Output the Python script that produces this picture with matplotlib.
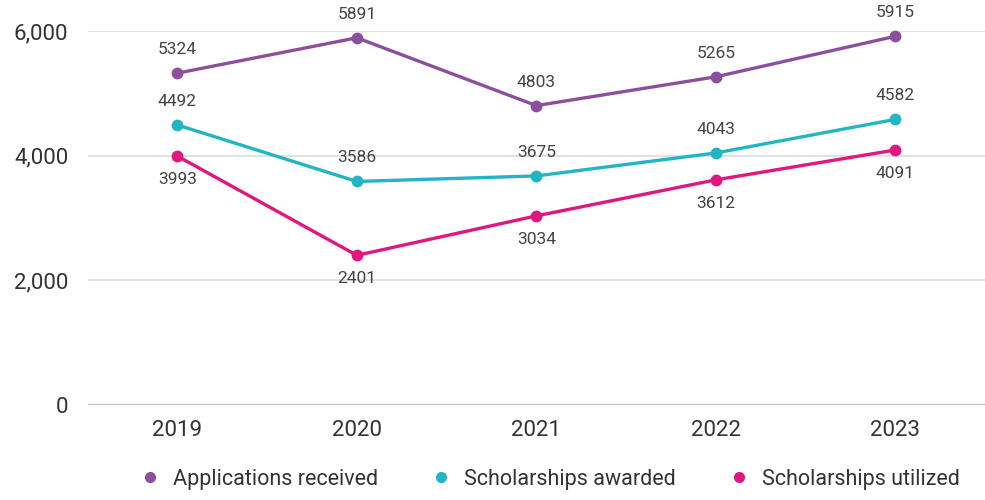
import matplotlib.pyplot as plt
from matplotlib.ticker import FuncFormatter

plt.rcParams['font.family'] = ['Roboto', 'DejaVu Sans']

years = ['2019', '2020', '2021', '2022', '2023']
applications = [5324, 5891, 4803, 5265, 5915]
awarded = [4492, 3586, 3675, 4043, 4582]
utilized = [3993, 2401, 3034, 3612, 4091]

series = [
    ('Applications received', applications, '#8b4f9e', 17),
    ('Scholarships awarded', awarded, '#22b5c4', 17),
    ('Scholarships utilized', utilized, '#e0177f', -17),
]

fig = plt.figure(figsize=(9.85, 5), dpi=100)
ax = fig.add_axes([0.089, 0.19, 0.911, 0.748])

x = list(range(len(years)))
for name, vals, color, off in series:
    ax.plot(x, vals, color=color, lw=2.4, marker='o', ms=7.5, label=name,
            clip_on=False, zorder=3)
    for xi, v in zip(x, vals):
        ax.annotate(str(v), (xi, v), xytext=(0, off), textcoords='offset points',
                    ha='center', va='center', fontsize=12.5, color='#444444',
                    annotation_clip=False)

ax.set_xlim(-0.5, 4.5)
ax.set_ylim(0, 6000)
ax.set_yticks([0, 2000, 4000, 6000])
ax.yaxis.set_major_formatter(FuncFormatter(lambda v, p: f'{int(v):,}'))
ax.set_xticks(x)
ax.set_xticklabels(years)
ax.grid(axis='y', color='#dcdcdc', lw=1.2)
ax.axhline(0, color='#bdbdbd', lw=1.5, zorder=1)
ax.set_axisbelow(True)
for s in ax.spines.values():
    s.set_visible(False)
ax.tick_params(axis='both', length=0, labelsize=16, colors='#333333')
ax.tick_params(axis='y', pad=14)
ax.tick_params(axis='x', pad=11)

fig.legend(loc='lower center', bbox_to_anchor=(0.56, -0.018), ncol=3, frameon=False,
           fontsize=15.5, handlelength=0.6, columnspacing=2.6, handletextpad=0.8,
           labelcolor='#333333')
leg = fig.legends[0]
for h in leg.legend_handles:
    h.set_linestyle('none')
    h.set_markersize(7)

fig.savefig('out.png', dpi=100)
